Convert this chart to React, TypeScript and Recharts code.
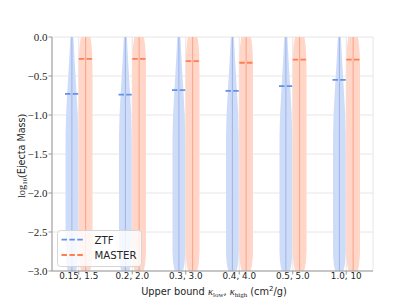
import React from 'react';
import { ComposedChart, Bar, XAxis, YAxis, CartesianGrid, Legend } from 'recharts';

// kappa ranges on the x axis
const categories = ['0.15, 1.5', '0.2, 2.0', '0.3, 3.0', '0.4, 4.0', '0.5, 5.0', '1.0, 10'];
const seriesNames = ['ZTF', 'MASTER'];

// medians of log10(ejecta mass)
const ztfMedians = [-0.73, -0.74, -0.68, -0.69, -0.63, -0.55];
const masterMedians = [-0.28, -0.28, -0.31, -0.33, -0.29, -0.29];

// extent of every violin (clipped to the axis range)
const violinExtent = [-3, 0];
const yTicks = [-3, -2.5, -2, -1.5, -1, -0.5, 0];

// violin half-width profile (fraction of the bar width) at given levels
const profileLevels = [0, -0.1, -0.2, -0.3, -0.5, -0.75, -1, -1.25, -1.5, -2, -2.5, -2.75, -2.85, -2.93, -3];
const ztfProfile = [0.22, 0.28, 0.34, 0.4, 0.53, 0.7, 0.85, 0.92, 0.93, 0.93, 0.93, 0.93, 0.88, 0.78, 0.6];
const masterProfile = [0.7, 0.86, 0.95, 0.98, 1, 1, 1, 1, 1, 1, 1, 1, 0.94, 0.84, 0.66];

const BLUE_FILL = '#cfdcf8';
const BLUE_STICK = '#9ab5ee';
const BLUE_MED = '#6490e8';
const ORANGE_FILL = '#ffd6c8';
const ORANGE_STICK = '#f8a488';
const ORANGE_MED = '#ff7f50';
const SPINE = '#999';

const data = categories.map((name, i) => ({
  name,
  ztf: violinExtent,
  master: violinExtent,
  ztfMedian: ztfMedians[i],
  masterMedian: masterMedians[i],
}));

const violinShape =
  (profile: number[], medianKey: string, fill: string, stick: string, med: string) => (props: any) => {
    const { x, y, width, height, payload } = props;
    const top = Math.min(y, y + height);
    const h = Math.abs(height);
    const lo = violinExtent[0];
    const hi = violinExtent[1];
    const py = (v: number) => top + ((hi - v) / (hi - lo)) * h;
    const cx = x + width / 2;
    const right = profileLevels.map((lv, i) => `${cx + (profile[i] * width) / 2},${py(lv)}`);
    const left = profileLevels.map((lv, i) => `${cx - (profile[i] * width) / 2},${py(lv)}`).reverse();
    const d = 'M' + right.join('L') + 'L' + left.join('L') + 'Z';
    const my = py(payload[medianKey]);
    return (
      <g>
        <path d={d} fill={fill} stroke="none" />
        <line x1={cx} x2={cx} y1={top} y2={top + h} stroke={stick} strokeWidth={1} />
        <line
          x1={x}
          x2={x + width}
          y1={my}
          y2={my}
          stroke={med}
          strokeWidth={1.8}
          strokeDasharray="5.5 2.2"
        />
      </g>
    );
  };

const renderLegend = () => (
  <svg width={86} height={38}>
    <rect x={0.5} y={0.5} width={84} height={36} rx={3} fill="#fff" fillOpacity={0.8} stroke="#d6d6d6" />
    <line x1={4.5} x2={27.5} y1={9.7} y2={9.7} stroke={BLUE_MED} strokeWidth={1.8} strokeDasharray="5.5 2.4" />
    <text x={37.5} y={13.5} fontSize={10.2} fill="#262626">
      {seriesNames[0]}
    </text>
    <line x1={4.5} x2={27.5} y1={25} y2={25} stroke={ORANGE_MED} strokeWidth={1.8} strokeDasharray="5.5 2.4" />
    <text x={37.5} y={28.8} fontSize={10.2} fill="#262626">
      {seriesNames[1]}
    </text>
  </svg>
);

const yLabel = () => (
  <text x={17} y={148} transform="rotate(-90 17 148)" textAnchor="middle" fontSize={9.6} fill="#262626">
    <tspan fontFamily="Liberation Serif" fontSize={10.5}>log</tspan>
    <tspan fontFamily="Liberation Serif" fontSize={7} dy={2}>10</tspan>
    <tspan fontFamily="Liberation Serif" fontSize={10.5} dy={-2}>(</tspan>
    <tspan>Ejecta Mass</tspan>
    <tspan fontFamily="Liberation Serif" fontSize={10.5}>)</tspan>
  </text>
);

const xLabel = () => (
  <text x={206} y={286.5} textAnchor="middle" fontSize={9.8} fill="#262626">
    <tspan>Upper bound </tspan>
    <tspan fontFamily="Liberation Serif" fontStyle="italic" fontSize={10.5}>κ</tspan>
    <tspan fontFamily="Liberation Serif" fontSize={7} dy={2}>low</tspan>
    <tspan dy={-2}>, </tspan>
    <tspan fontFamily="Liberation Serif" fontStyle="italic" fontSize={10.5}>κ</tspan>
    <tspan fontFamily="Liberation Serif" fontSize={7} dy={2}>high</tspan>
    <tspan dy={-2}> (cm</tspan>
    <tspan fontSize={7} dy={-4}>2</tspan>
    <tspan dy={4}>/g)</tspan>
  </text>
);

const yTickFormat = (v: number) => (v === 0 ? '0.0' : '\u2212' + Math.abs(v).toFixed(1));

export default function App() {
  return (
    <div style={{ width: 400, height: 297, fontFamily: 'DejaVu Sans' }}>
      <ComposedChart
        width={400}
        height={297}
        data={data}
        margin={{ top: 29, right: 35, bottom: 4, left: 0 }}
        barSize={13.75}
        barGap={0}
      >
        <CartesianGrid stroke="#e6e6e6" strokeWidth={1} />
        <XAxis
          dataKey="name"
          height={30}
          tick={{ fontSize: 8.8, fill: '#262626', dy: -1.5 }}
          tickSize={3.5}
          tickMargin={0}
          tickLine={{ stroke: SPINE }}
          axisLine={{ stroke: SPINE }}
          interval={0}
          label={{ content: xLabel }}
        />
        <XAxis
          xAxisId="top"
          dataKey="name"
          orientation="top"
          height={0}
          tick={false}
          tickLine={false}
          axisLine={{ stroke: SPINE }}
        />
        <YAxis
          width={44}
          domain={[-3, 0]}
          ticks={yTicks}
          tickFormatter={yTickFormat}
          tick={{ fontSize: 11, fontFamily: 'Liberation Serif', fill: '#262626' }}
          tickSize={3.5}
          tickMargin={1}
          tickLine={{ stroke: SPINE }}
          axisLine={{ stroke: SPINE }}
          allowDataOverflow
          label={{ content: yLabel }}
        />
        <YAxis
          yAxisId="right"
          orientation="right"
          width={0}
          domain={[-3, 0]}
          tick={false}
          tickLine={false}
          axisLine={{ stroke: SPINE }}
        />
        <Bar
          dataKey="ztf"
          name={seriesNames[0]}
          fill={BLUE_FILL}
          isAnimationActive={false}
          shape={violinShape(ztfProfile, 'ztfMedian', BLUE_FILL, BLUE_STICK, BLUE_MED)}
        />
        <Bar
          dataKey="master"
          name={seriesNames[1]}
          fill={ORANGE_FILL}
          isAnimationActive={false}
          shape={violinShape(masterProfile, 'masterMedian', ORANGE_FILL, ORANGE_STICK, ORANGE_MED)}
        />
        <Legend
          layout="vertical"
          verticalAlign="middle"
          align="center"
          wrapperStyle={{ left: 49, top: 222, width: 86, height: 38 }}
          content={renderLegend}
        />
      </ComposedChart>
    </div>
  );
}
